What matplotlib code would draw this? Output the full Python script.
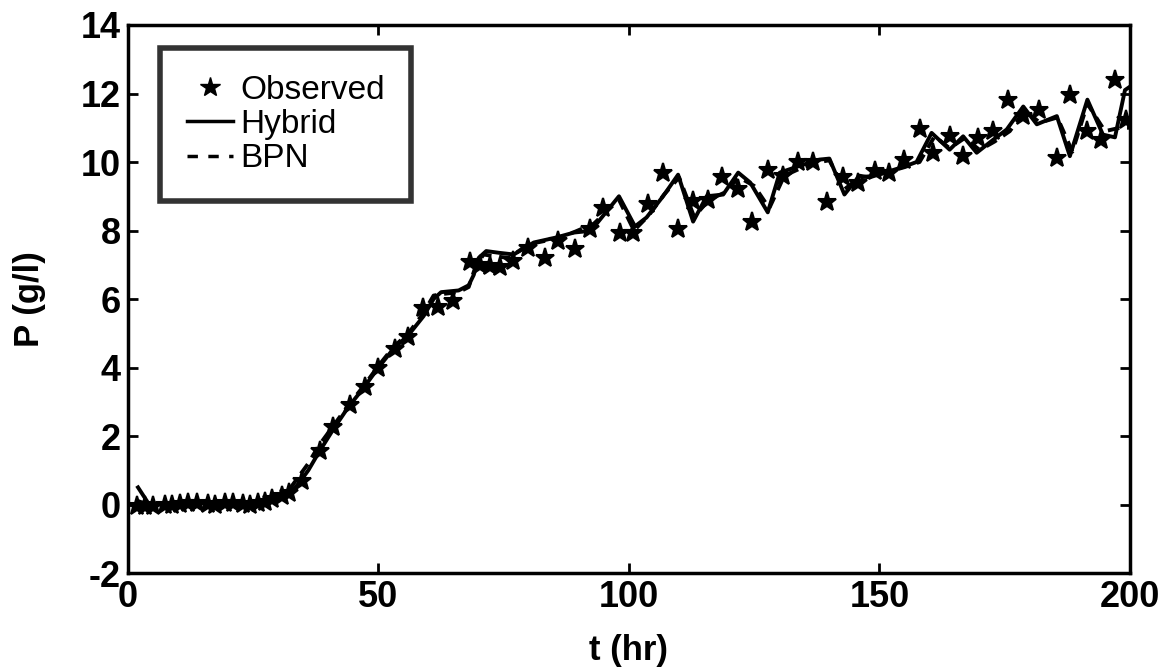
import matplotlib.pyplot as plt
from matplotlib.lines import Line2D
import numpy as np

plt.rcParams['font.family'] = ['Liberation Sans', 'DejaVu Sans']
plt.rcParams['axes.unicode_minus'] = False

# observed product concentration
obs_t = [1.8, 3.4, 5, 7.4, 8.8, 10.4, 12, 13.8, 16, 17.4, 19.4, 21, 23, 24.4, 26, 27.4,
         28.7, 30.7, 32.2, 34.7, 38.3, 40.9, 44.3, 47.3, 49.9, 53.3, 55.9, 58.8, 61.9,
         64.9, 68.3, 70.3, 72.3, 74.3, 76.8, 79.8, 83.2, 85.8, 89.2, 92.2, 94.8, 98.2,
         100.8, 103.8, 106.8, 109.8, 112.8, 115.8, 118.6, 121.8, 124.6, 127.7, 130.7,
         133.7, 136.7, 139.6, 142.8, 145.8, 149.1, 151.8, 154.8, 158.1, 160.7, 164.1,
         166.7, 169.7, 172.7, 175.7, 178.7, 181.8, 185.4, 188.0, 191.4, 194.2, 197.0, 199.3]
obs_p = [-0.05, -0.05, -0.05, 0.0, 0.0, 0.02, 0.05, 0.05, 0.02, 0.0, 0.05, 0.05, 0.02,
         0.0, 0.05, 0.08, 0.15, 0.25, 0.35, 0.7, 1.55, 2.25, 2.9, 3.42, 4.0, 4.55, 4.9,
         5.75, 5.77, 5.93, 7.08, 7.0, 6.95, 6.92, 7.12, 7.48, 7.21, 7.68, 7.45, 8.03,
         8.67, 7.94, 7.94, 8.76, 9.69, 8.03, 8.85, 8.9, 9.55, 9.2, 8.26, 9.78, 9.58,
         9.99, 10.0, 8.82, 9.55, 9.39, 9.73, 9.68, 10.07, 10.95, 10.27, 10.75, 10.17,
         10.71, 10.9, 11.82, 11.34, 11.53, 10.12, 11.97, 10.9, 10.63, 12.4, 11.24]

# hybrid model
hyb_t = [2, 4, 8, 12, 16, 20, 24, 28, 30, 32, 34, 36, 38, 41, 44, 47, 50, 53, 56, 59, 61,
         62.5, 66, 68, 69, 70, 71.5, 74, 77, 81, 85.6, 89, 91, 93, 98, 101.2, 103.5,
         106.8, 109.8, 112.8, 115.5, 118.8, 121.8, 124.2, 127.7, 130.1, 133.7, 138, 140,
         143, 146, 148, 155, 157.4, 160.4, 164, 166.7, 169.4, 172.7, 175.4, 178.7, 181.4,
         185.4, 188, 191.5, 194.6, 197, 199, 200]
hyb_p = [0.5, 0.05, 0.0, 0.05, 0.05, 0.05, 0.05, 0.1, 0.2, 0.3, 0.6, 1.0, 1.5, 2.2, 2.85,
         3.4, 4.0, 4.55, 4.95, 5.5, 6.0, 6.2, 6.25, 6.4, 6.7, 7.2, 7.4, 7.35, 7.3, 7.65,
         7.8, 7.94, 7.97, 8.1, 9.0, 8.12, 8.38, 9.0, 9.63, 8.26, 9.0, 9.05, 9.69, 9.4,
         8.53, 9.69, 9.87, 10.07, 10.1, 9.05, 9.6, 9.55, 9.87, 10.0, 10.85, 10.36, 10.75,
         10.27, 10.65, 10.95, 11.62, 11.1, 11.34, 10.17, 11.82, 10.8, 10.72, 12.1, 12.2]

# BPN model
bpn_t = [2, 4, 8, 12, 16, 20, 24, 28, 30, 32, 34, 36, 38, 41, 44, 47, 50, 53, 56, 59, 61,
         63, 66, 68, 69.5, 71, 73, 76, 80, 85, 89, 93, 98, 101, 104, 107, 110, 113, 116,
         119, 122, 125, 128, 131, 134, 138, 140, 143, 146, 149, 155, 158, 161, 164, 167,
         170, 173, 176, 179, 182, 185.5, 188.5, 191.5, 195, 198, 200]
bpn_p = [0.1, 0.0, 0.0, 0.05, 0.05, 0.05, 0.05, 0.1, 0.2, 0.4, 0.8, 1.2, 1.7, 2.3, 2.9,
         3.45, 4.05, 4.6, 5.0, 5.6, 6.1, 6.15, 6.2, 6.35, 7.0, 7.3, 7.25, 7.2, 7.6, 7.75,
         7.95, 8.2, 8.9, 8.0, 8.45, 9.05, 9.55, 8.4, 8.9, 9.1, 9.55, 9.3, 8.65, 9.6,
         9.8, 10.0, 10.05, 9.2, 9.55, 9.6, 9.85, 10.0, 10.75, 10.4, 10.7, 10.35, 10.6,
         10.9, 11.5, 11.15, 11.3, 10.3, 11.7, 10.9, 11.0, 11.0]

fig = plt.figure(figsize=(11.7, 6.72), dpi=100)
ax = fig.add_axes([0.1094, 0.1473, 0.8564, 0.8155])

ax.plot(hyb_t, hyb_p, '-', color='black', lw=2.8)
ax.plot(bpn_t, bpn_p, '--', color='black', lw=2.8, dashes=(3, 2))
ax.plot(obs_t, obs_p, '*', color='black', ms=14, mew=1.5, ls='none')

ax.set_xlim(0, 200)
ax.set_ylim(-2, 14)
ax.set_xticks([0, 50, 100, 150, 200])
ax.set_yticks(np.arange(-2, 15, 2))

for s in ax.spines.values():
    s.set_linewidth(2.5)
ax.tick_params(direction='in', length=7, width=2, top=True, right=True,
               labelsize=26, pad=5)
for lab in ax.get_xticklabels() + ax.get_yticklabels():
    lab.set_fontweight('bold')

ax.set_xlabel('t (hr)', fontsize=25, fontweight='bold', labelpad=14)
ax.set_ylabel('P (g/l)', fontsize=25, fontweight='bold', labelpad=25)

handles = [
    Line2D([], [], marker='*', color='black', ls='none', ms=15),
    Line2D([], [], color='black', lw=2.5),
    Line2D([], [], color='black', lw=2.5, ls='--', dashes=(3, 3)),
]
leg = ax.legend(handles, ['Observed', 'Hybrid', 'BPN'], loc='upper left',
                bbox_to_anchor=(0.032, 0.958), fancybox=False,
                handlelength=1.4, borderpad=0.8, labelspacing=0.1,
                handletextpad=0.2, borderaxespad=0,
                prop={'family': ['Liberation Sans', 'DejaVu Sans'], 'size': 24})
leg.get_frame().set_edgecolor('black')
leg.get_frame().set_linewidth(4)

fig.savefig('out.png', dpi=100)
